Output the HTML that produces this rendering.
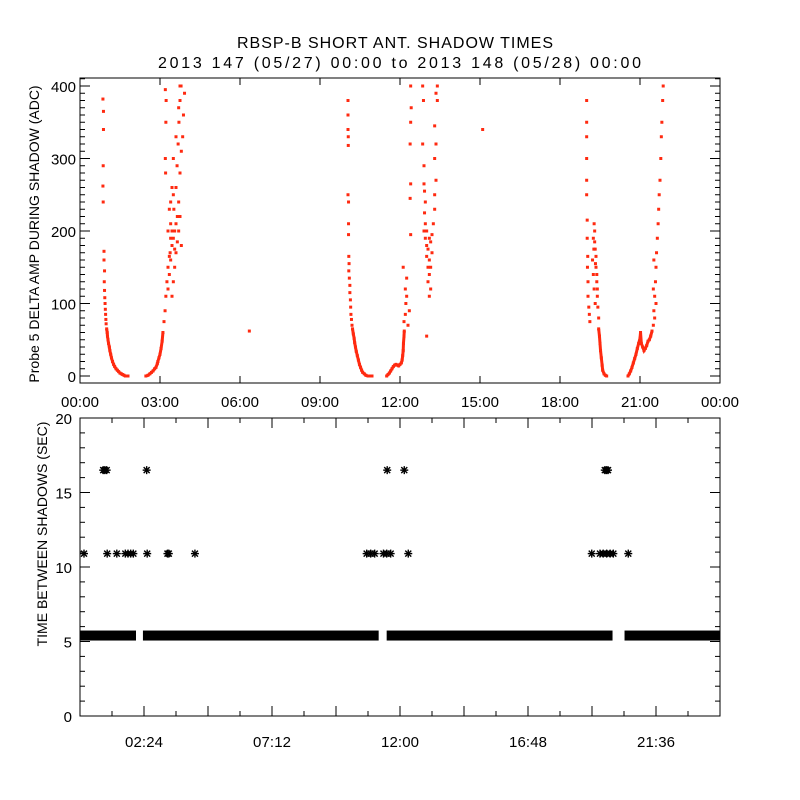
<!DOCTYPE html>
<html><head><meta charset="utf-8">
<style>
html,body{margin:0;padding:0;background:#fff;}
svg{display:block;font-family:"Liberation Sans","DejaVu Sans",sans-serif;}
</style></head>
<body>
<svg id="chart" width="800" height="800" viewBox="0 0 800 800" xmlns="http://www.w3.org/2000/svg">
<rect x="0" y="0" width="800" height="800" fill="#fff"/>
<text x="237" y="48" font-size="16" textLength="316" lengthAdjust="spacing">RBSP-B SHORT ANT. SHADOW TIMES</text>
<text x="158" y="68" font-size="16" textLength="483" lengthAdjust="spacing">2013 147 (05/27) 00:00 to 2013 148 (05/28) 00:00</text>
<g id="topPanel"></g>
<g id="botPanel"></g>
<text transform="translate(39,234) rotate(-90)" font-size="14" text-anchor="middle">Probe 5 DELTA AMP DURING SHADOW (ADC)</text>
<text transform="translate(47,534) rotate(-90)" font-size="14" text-anchor="middle">TIME BETWEEN SHADOWS (SEC)</text>
</svg>
<script>
// ---------- data: top panel (hour, ADC value) ----------
const p1Down=[[0.86,382],[0.88,365],[0.88,340],[0.87,290],[0.86,262],[0.87,240],[0.9,172],[0.9,160],[0.92,145],[0.91,130],[0.92,118],[0.93,108],[0.94,100],[0.95,92],[0.96,85],[0.97,78],[0.98,72],[1.0,65],[1.02,60],[1.03,55],[1.05,50],[1.07,45],[1.1,40],[1.12,35],[1.15,30],[1.18,25],[1.22,20],[1.26,16],[1.3,13],[1.35,10],[1.4,8],[1.45,6],[1.5,4],[1.55,3],[1.6,2],[1.65,1],[1.7,0],[1.75,0],[1.8,0]];
const p1Up=[[2.47,0],[2.55,1],[2.62,3],[2.68,5],[2.74,7],[2.8,10],[2.85,12],[2.9,17],[2.92,20],[2.96,25],[3.0,30],[3.04,38],[3.08,48],[3.11,60],[3.15,75],[3.19,90],[3.22,110],[3.26,130],[3.3,150],[3.38,170],[3.45,200],[3.52,230],[3.6,260],[3.64,290],[3.68,320],[3.71,350],[3.75,380],[3.79,400],[3.3,120],[3.35,140],[3.4,160],[3.45,180],[3.5,190],[3.55,200],[3.6,210],[3.65,220],[3.3,200],[3.35,230],[3.4,210],[3.5,250],[3.7,240],[3.75,280],[3.8,310],[3.85,330],[3.88,360],[3.92,390],[3.2,395],[3.23,380],[3.22,350],[3.2,300],[3.21,280],[3.6,170],[3.55,150],[3.5,130],[3.45,110],[3.7,200],[3.75,220],[3.8,180],[3.45,260],[3.4,240],[3.5,300],[3.6,330],[3.7,370],[3.75,400],[3.4,190],[3.55,175],[3.65,185],[3.35,165]];
const p2Down=[[10.05,380],[10.05,360],[10.05,340],[10.06,330],[10.06,318],[10.05,250],[10.07,240],[10.07,210],[10.07,195],[10.08,165],[10.09,155],[10.08,145],[10.1,135],[10.12,125],[10.12,115],[10.14,105],[10.15,95],[10.16,85],[10.18,78],[10.2,70],[10.22,65],[10.25,58],[10.28,52],[10.3,46],[10.33,40],[10.36,34],[10.4,28],[10.44,22],[10.48,16],[10.52,12],[10.56,8],[10.6,5],[10.66,3],[10.72,1],[10.8,0],[10.88,0],[10.95,0]];
const p2Up=[[11.5,0],[11.55,2],[11.6,4],[11.65,7],[11.7,10],[11.75,13],[11.8,15],[11.85,16],[11.9,15],[11.95,14],[12.0,16],[12.05,18],[12.08,22],[12.1,28],[12.12,35],[12.13,45],[12.15,55],[12.16,62],[12.15,75],[12.2,85],[12.22,100],[12.25,110],[12.2,120],[12.25,135],[12.12,150],[12.4,400],[12.42,370],[12.4,350],[12.38,320],[12.4,265],[12.38,245],[12.4,195],[12.35,90],[12.3,70]];
const p2Col=[[12.85,400],[12.88,380],[12.85,320],[12.9,290],[12.9,265],[12.92,255],[12.95,240],[12.92,225],[12.95,210],[12.9,200],[12.95,190],[13.0,180],[13.05,175],[13.0,165],[13.1,160],[13.05,150],[13.1,140],[13.05,130],[13.15,185],[13.2,195],[13.25,210],[13.3,230],[13.3,250],[13.35,270],[13.3,300],[13.35,320],[13.3,345],[13.4,380],[13.4,400],[13.35,390],[13.15,120],[13.1,110],[13.0,200],[13.1,190],[13.2,170],[13.15,150]];
const p3Down=[[19.0,380],[19.0,350],[19.0,330],[19.0,300],[19.0,270],[19.0,250],[19.02,215],[19.02,190],[19.04,165],[19.03,150],[19.05,130],[19.05,110],[19.08,95],[19.1,85],[19.12,75],[19.3,200],[19.3,185],[19.32,175],[19.35,165],[19.35,150],[19.38,140],[19.38,130],[19.4,120],[19.4,110],[19.42,95],[19.45,80],[19.45,65],[19.48,55],[19.5,45],[19.52,35],[19.55,25],[19.58,15],[19.6,8],[19.65,3],[19.7,1],[19.75,0],[19.25,190],[19.28,210],[19.22,160],[19.25,140],[19.28,120],[19.32,100],[19.27,175],[19.33,155]];
const p3Up=[[20.55,0],[20.6,3],[20.65,7],[20.7,12],[20.75,18],[20.8,24],[20.85,30],[20.9,38],[20.95,45],[21.0,52],[21.02,60],[21.05,45],[21.1,40],[21.15,35],[21.2,38],[21.25,42],[21.3,48],[21.35,50],[21.4,55],[21.45,62],[21.5,70],[21.52,90],[21.55,110],[21.58,130],[21.6,150],[21.62,170],[21.65,190],[21.68,210],[21.7,230],[21.72,250],[21.75,270],[21.78,300],[21.8,330],[21.82,350],[21.85,380],[21.87,400],[21.55,80],[21.6,100],[21.5,120],[21.52,160]];
const isolatedPts=[[6.35,62],[13.0,55],[15.1,340]];
const topXTicks=["00:00","03:00","06:00","09:00","12:00","15:00","18:00","21:00","00:00"];
const topYTicks=[0,100,200,300,400];
// ---------- data: bottom panel ----------
const bandSegments=[[0,2.1],[2.36,11.2],[11.5,19.97],[20.42,24]];
const bandValue=5.4;
const level16Times=[0.87,0.93,1.0,2.5,11.52,12.16,19.68,19.74,19.8];
const level16Value=16.5;
const level11Times=[0.15,1.02,1.38,1.7,1.8,1.9,2.0,2.52,3.28,3.33,4.31,10.75,10.9,11.05,11.38,11.5,11.65,12.31,19.19,19.5,19.62,19.75,19.88,20.0,20.56];
const level11Value=10.9;
const botXTicks=["02:24","07:12","12:00","16:48","21:36"];
const botYTicks=[0,5,10,15,20];

const NS="http://www.w3.org/2000/svg";
function mk(tag,attrs,parent){const e=document.createElementNS(NS,tag);for(const k in attrs)e.setAttribute(k,attrs[k]);parent.appendChild(e);return e;}
const L=80,R=720;
const xs=h=>L+h*(R-L)/24;
const tT=78,tB=383;
const ty=v=>376-v*0.725;
const bT=418,bB=716;
const by=v=>bB-v*(bB-bT)/20;

const topG=document.getElementById('topPanel');
const botG=document.getElementById('botPanel');

let f=mk('rect',{x:L,y:tT,width:R-L,height:tB-tT,fill:'none',stroke:'#000','stroke-width':1},topG);


topXTicks.forEach((t,i)=>{const x=xs(i*3);
 mk('line',{x1:x,x2:x,y1:tB,y2:tB-7,stroke:'#000'},topG);
 mk('line',{x1:x,x2:x,y1:tT,y2:tT+7,stroke:'#000'},topG);
 const tx=mk('text',{x:x-19,y:tB+24,'font-size':15,textLength:38,lengthAdjust:'spacing'},topG);tx.textContent=t;
 
 
});
for(let v=0;v<=410;v+=10){const y=ty(v);const maj=v%100===0;
 if(y<tT||y>tB)continue;
 mk('line',{x1:L,x2:L+(maj?10:5),y1:y,y2:y,stroke:'#000'},topG);
 mk('line',{x1:R,x2:R-(maj?10:5),y1:y,y2:y,stroke:'#000'},topG);}
topYTicks.forEach(v=>{const tx=mk('text',{x:L-4,y:ty(v)+6,'font-size':15,'text-anchor':'end'},topG);tx.textContent=v;
 
 });

const branches=[p1Down,p1Up,p2Down,p2Up,p2Col,p3Down,p3Up,isolatedPts];
branches.forEach((br,bi)=>{
 const g=mk('g',{},topG);
 
 
 if(br!==isolatedPts){
  const low=br.filter(p=>p[1]<=65).slice().sort((a,b)=>a[0]-b[0]);
  if(low.length>1){mk('polyline',{points:low.map(p=>xs(p[0])+','+ty(p[1])).join(' '),fill:'none',stroke:'#ff2a10','stroke-width':3},g);}
 }
 br.forEach(p=>{const r=mk('rect',{x:xs(p[0])-1.5,y:ty(p[1])-1.5,width:3,height:3,fill:'#ff2a10'},g);
  
  });
});

f=mk('rect',{x:L,y:bT,width:R-L,height:bB-bT,fill:'none',stroke:'#000','stroke-width':1},botG);


for(let k=1;k<20;k++){const h=k*1.2;const x=xs(h);const maj=k%2===0;
 mk('line',{x1:x,x2:x,y1:bB,y2:bB-(maj?10:5),stroke:'#000'},botG);
 mk('line',{x1:x,x2:x,y1:bT,y2:bT+(maj?10:5),stroke:'#000'},botG);}
botXTicks.forEach((t,i)=>{const tx=mk('text',{x:xs((i+1)*4.8-2.4)-19,y:bB+31,'font-size':15,textLength:38,lengthAdjust:'spacing'},botG);tx.textContent=t;
 
 });
for(let v=0;v<=20;v++){const y=by(v);const maj=v%5===0;
 mk('line',{x1:L,x2:L+(maj?10:5),y1:y,y2:y,stroke:'#000'},botG);
 mk('line',{x1:R,x2:R-(maj?10:5),y1:y,y2:y,stroke:'#000'},botG);}
botYTicks.forEach(v=>{const tx=mk('text',{x:L-8,y:by(v)+6,'font-size':15,'text-anchor':'end'},botG);tx.textContent=v;
 
 });

bandSegments.forEach(s=>{const r=mk('rect',{x:xs(s[0]),y:by(bandValue)-5,width:xs(s[1])-xs(s[0]),height:10,fill:'#000'},botG);
 
 });
function star(h,v){const cx=xs(h),cy=by(v);const g=mk('g',{stroke:'#000','stroke-width':1.4},botG);
 
 
 mk('line',{x1:cx-4,x2:cx+4,y1:cy,y2:cy},g);mk('line',{x1:cx,x2:cx,y1:cy-4,y2:cy+4},g);
 mk('line',{x1:cx-3,x2:cx+3,y1:cy-3,y2:cy+3},g);mk('line',{x1:cx-3,x2:cx+3,y1:cy+3,y2:cy-3},g);}
level16Times.forEach(h=>star(h,level16Value));
level11Times.forEach(h=>star(h,level11Value));
</script>
</body></html>
